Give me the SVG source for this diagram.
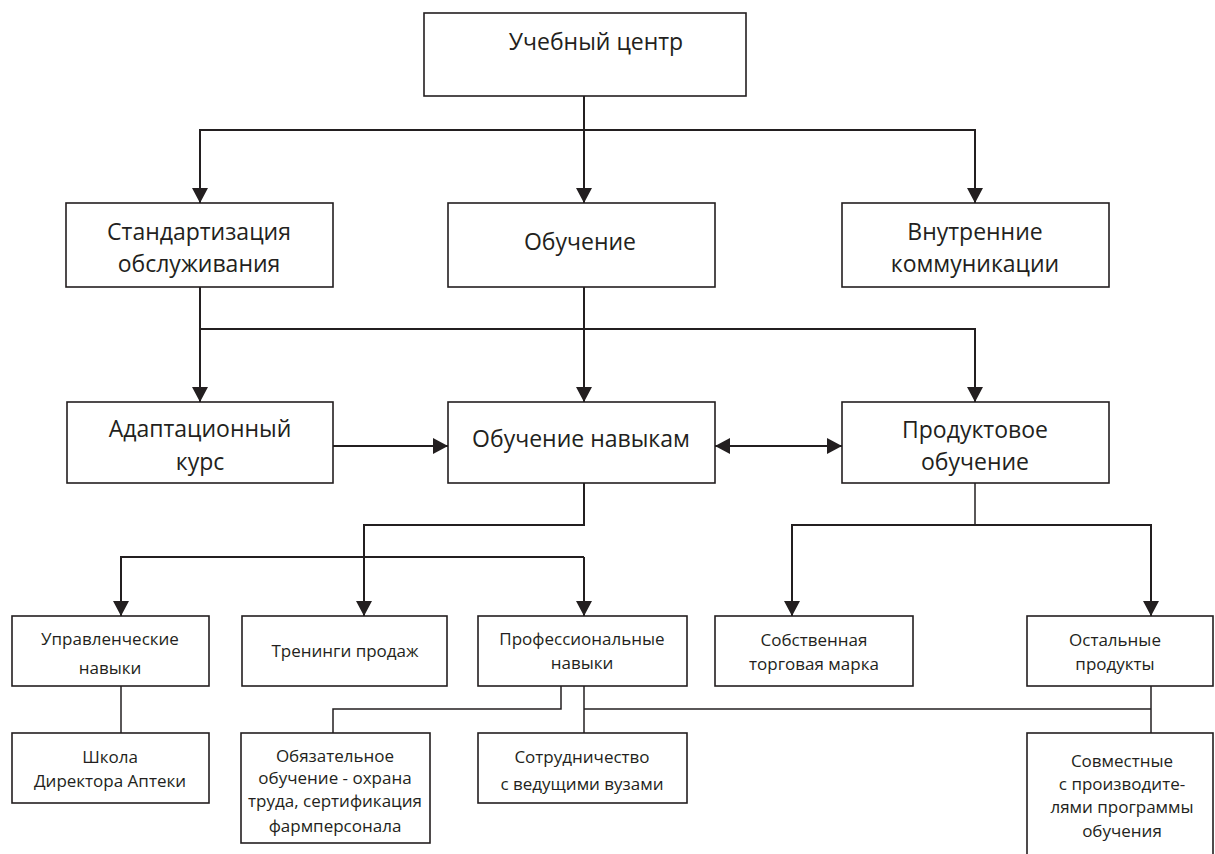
<svg xmlns="http://www.w3.org/2000/svg" width="1215" height="854" viewBox="0 0 1215 854">
<style>
.box{fill:#fff;stroke:#231f20;stroke-width:1.6}
.t{font-family:"Open Sans","Liberation Sans",sans-serif;fill:#231f20;text-anchor:middle}
.L{font-size:23px}
.S{font-size:17px}
.c{fill:none;stroke:#231f20;stroke-width:2}
.c1{fill:none;stroke:#231f20;stroke-width:1.5}
</style>
<defs>
<marker id="ah" markerUnits="userSpaceOnUse" markerWidth="15" markerHeight="16" refX="15" refY="8" orient="auto-start-reverse" viewBox="0 0 15 16">
<path d="M0,0 L15,8 L0,16 z" fill="#231f20"/>
</marker>
</defs>
<g id="connectors">
<path class="c" d="M584 96 V203" marker-end="url(#ah)"/>
<path class="c" d="M584 130 H200 V203" marker-end="url(#ah)"/>
<path class="c" d="M584 130 H975 V203" marker-end="url(#ah)"/>
<path class="c" d="M200 287 V402" marker-end="url(#ah)"/>
<path class="c" d="M584 287 V402" marker-end="url(#ah)"/>
<path class="c" d="M200 329 H975 V402" marker-end="url(#ah)"/>
<path class="c" d="M333 446 H448" marker-end="url(#ah)"/>
<path class="c" d="M715 446 H842" marker-start="url(#ah)" marker-end="url(#ah)"/>
<path class="c" d="M584 483 V525 H364 V616" marker-end="url(#ah)"/>
<path class="c" d="M584 557 H121 V616" marker-end="url(#ah)"/>
<path class="c" d="M584 557 V616" marker-end="url(#ah)"/>
<path class="c1" d="M975 483 V525"/>
<path class="c" d="M975 525 H792 V616" marker-end="url(#ah)"/>
<path class="c" d="M975 525 H1151 V616" marker-end="url(#ah)"/>
<path class="c1" d="M121 686 V733"/>
<path class="c1" d="M561 686 V709 H333 V733"/>
<path class="c1" d="M584 686 V733"/>
<path class="c1" d="M584 709 H1151"/>
<path class="c1" d="M1151 686 V733"/>
</g>
<g id="n-center">
<rect class="box" x="424" y="13" width="322" height="83"/>
<text class="t L" x="596" y="50">Учебный центр</text>
</g>
<g id="n-standard">
<rect class="box" x="66" y="203" width="267" height="84"/>
<text class="t L" x="199" y="240">Стандартизация</text>
<text class="t L" x="199" y="272">обслуживания</text>
</g>
<g id="n-obuchenie">
<rect class="box" x="448" y="203" width="267" height="84"/>
<text class="t L" x="580" y="250">Обучение</text>
</g>
<g id="n-vnutr">
<rect class="box" x="842" y="203" width="267" height="84"/>
<text class="t L" x="975" y="240">Внутренние</text>
<text class="t L" x="975" y="272">коммуникации</text>
</g>
<g id="n-adapt">
<rect class="box" x="67" y="402" width="266" height="81"/>
<text class="t L" x="200" y="437">Адаптационный</text>
<text class="t L" x="200" y="470">курс</text>
</g>
<g id="n-navyki">
<rect class="box" x="448" y="402" width="267" height="81"/>
<text class="t L" x="581" y="447">Обучение навыкам</text>
</g>
<g id="n-product">
<rect class="box" x="842" y="402" width="267" height="81"/>
<text class="t L" x="975" y="438">Продуктовое</text>
<text class="t L" x="975" y="470">обучение</text>
</g>
<g id="n-upr">
<rect class="box" x="12" y="616" width="197" height="70"/>
<text class="t S" x="110" y="645">Управленческие</text>
<text class="t S" x="110" y="674">навыки</text>
</g>
<g id="n-trening">
<rect class="box" x="242" y="616" width="205" height="70"/>
<text class="t S" x="345" y="657">Тренинги продаж</text>
</g>
<g id="n-prof">
<rect class="box" x="478" y="616" width="209" height="70"/>
<text class="t S" x="582" y="645">Профессиональные</text>
<text class="t S" x="582" y="669">навыки</text>
</g>
<g id="n-sobst">
<rect class="box" x="715" y="616" width="198" height="70"/>
<text class="t S" x="814" y="646">Собственная</text>
<text class="t S" x="814" y="670">торговая марка</text>
</g>
<g id="n-ostal">
<rect class="box" x="1027" y="616" width="186" height="70"/>
<text class="t S" x="1115" y="646">Остальные</text>
<text class="t S" x="1115" y="670">продукты</text>
</g>
<g id="n-shkola">
<rect class="box" x="12" y="733" width="197" height="70"/>
<text class="t S" x="110" y="763">Школа</text>
<text class="t S" x="110" y="787">Директора Аптеки</text>
</g>
<g id="n-obyaz">
<rect class="box" x="241" y="733" width="189" height="110"/>
<text class="t S" x="335" y="762">Обязательное</text>
<text class="t S" x="335" y="784">обучение - охрана</text>
<text class="t S" x="335" y="807">труда, сертификация</text>
<text class="t S" x="335" y="832">фармперсонала</text>
</g>
<g id="n-sotr">
<rect class="box" x="478" y="733" width="209" height="70"/>
<text class="t S" x="582" y="763">Сотрудничество</text>
<text class="t S" x="582" y="790">с ведущими вузами</text>
</g>
<g id="n-sovm">
<rect class="box" x="1027" y="733" width="186" height="130"/>
<text class="t S" x="1122" y="767">Совместные</text>
<text class="t S" x="1122" y="790">с производите-</text>
<text class="t S" x="1122" y="813">лями программы</text>
<text class="t S" x="1122" y="837">обучения</text>
</g>
</svg>
